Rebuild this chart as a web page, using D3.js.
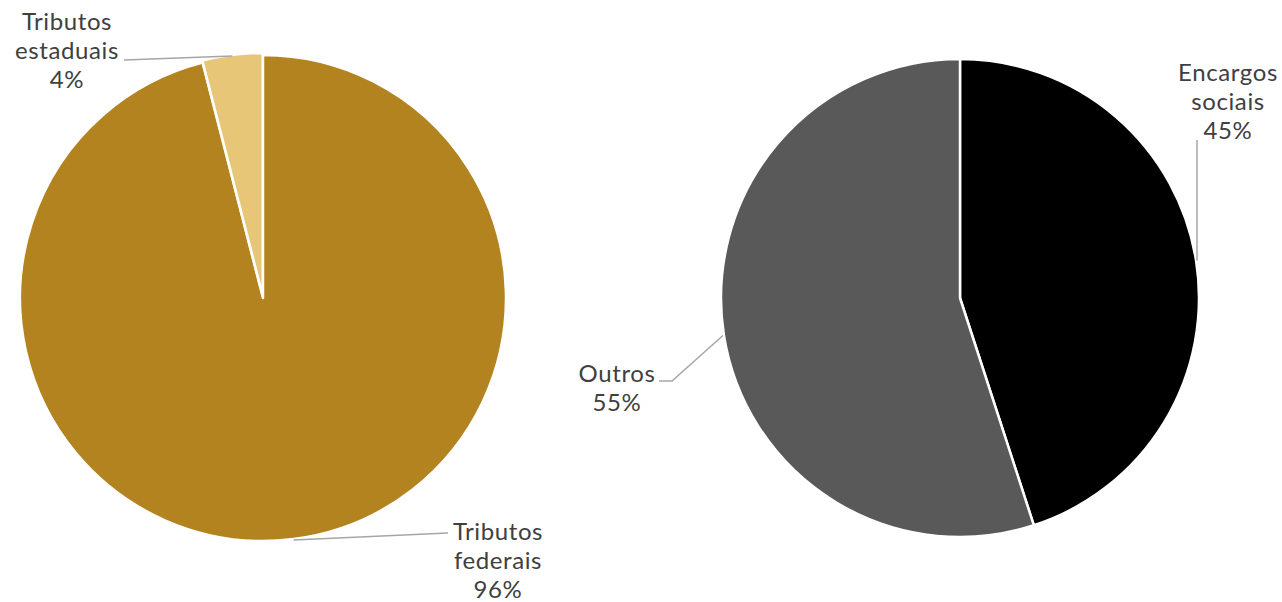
<!DOCTYPE html>
<html><head><meta charset="utf-8">
<script src="https://cdn.jsdelivr.net/npm/d3@7"></script>
<style>body{margin:0;background:#fff}svg{display:block}text{font-family:Lato,"Open Sans",sans-serif;fill:#404040;letter-spacing:0.6px}</style>
</head><body>
<svg id="c" width="1282" height="602"></svg>
<script>
// Data
const leftCategories = ["Tributos federais", "Tributos estaduais"];
const leftValues = [96, 4];
const leftLabelLines = [["Tributos", "federais", "96%"], ["Tributos", "estaduais", "4%"]];
const rightCategories = ["Encargos sociais", "Outros"];
const rightValues = [45, 55];
const rightLabelLines = [["Encargos", "sociais", "45%"], ["Outros", "55%"]];

const svg = d3.select("#c");
const fs = 24, lh = 29;

function drawPie(cfg) {
  const g = svg.append("g").attr("transform", `translate(${cfg.cx},${cfg.cy})`);
  const pie = d3.pie().sort(null).value(d => d)(cfg.values);
  const arc = d3.arc().innerRadius(0).outerRadius(cfg.r);
  const color = d3.scaleOrdinal().domain(cfg.categories).range(cfg.colors);
  pie.forEach((p, i) => {
    const mid = (p.startAngle + p.endAngle) / 2;
    const off = cfg.explode[i] || 0;
    g.append("path")
      .attr("d", arc(p))
      .attr("transform", `translate(${off * Math.sin(mid)},${-off * Math.cos(mid)})`)
      .attr("fill", color(cfg.categories[i]))
      .attr("stroke", "#fff").attr("stroke-width", 2.5).attr("stroke-linejoin", "round");
  });
  pie.forEach((p, i) => {
    const mid = (p.startAngle + p.endAngle) / 2;
    const sx = cfg.cx + (cfg.r + 1) * Math.sin(mid), sy = cfg.cy - (cfg.r + 1) * Math.cos(mid);
    const L = cfg.labels[i];
    const pts = [[sx, sy]].concat(L.path);
    svg.append("path").attr("d", d3.line()(pts)).attr("fill", "none")
      .attr("stroke", "#a6a6a6").attr("stroke-width", 1.5);
    const t = svg.append("text").attr("text-anchor", "middle").style("font-size", fs + "px");
    cfg.lines[i].forEach((s, k) => {
      t.append("tspan").attr("x", L.x).attr("y", L.y + k * lh).text(s);
    });
  });
}

drawPie({
  cx: 263, cy: 298, r: 243,
  values: leftValues, categories: leftCategories, lines: leftLabelLines,
  colors: ["#B38320", "#E8C677"], explode: [0, 2],
  labels: [
    { x: 498, y: 540, path: [[448, 533]] },
    { x: 67, y: 30, path: [[124, 60]] }
  ]
});
drawPie({
  cx: 960, cy: 298, r: 239,
  values: rightValues, categories: rightCategories, lines: rightLabelLines,
  colors: ["#000000", "#595959"], explode: [0, 0],
  labels: [
    { x: 1228, y: 81, path: [[1197, 140]] },
    { x: 617, y: 382, path: [[672, 381], [659, 381]] }
  ]
});
</script>
</body></html>
